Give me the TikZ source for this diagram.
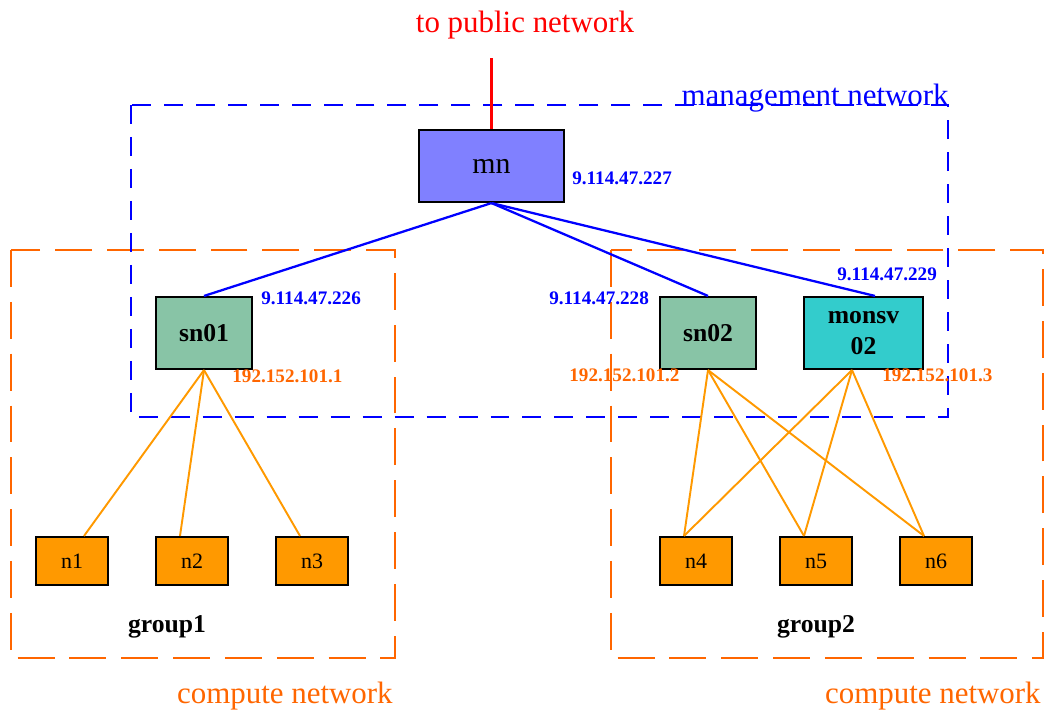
\documentclass[tikz,border=0pt]{standalone}
\usepackage{fontspec}
\setmainfont{Liberation Serif}
\usetikzlibrary{calc}
\definecolor{mnblue}{RGB}{128,128,255}
\definecolor{sngreen}{RGB}{136,196,166}
\definecolor{moncyan}{RGB}{51,204,204}
\definecolor{nodeorange}{RGB}{255,153,0}
\definecolor{netorange}{RGB}{255,102,0}
\definecolor{linkred}{RGB}{255,0,0}
\tikzset{
  host/.style={draw=black,line width=1.2pt,inner sep=0pt,align=center},
  mnbox/.style={host,fill=mnblue,minimum width=2.9cm,minimum height=1.44cm,font=\fontsize{17}{20}\selectfont},
  snbox/.style={host,fill=sngreen,minimum width=1.92cm,minimum height=1.44cm,font=\fontsize{14.6}{17.6}\selectfont\bfseries},
  monbox/.style={host,fill=moncyan,minimum width=2.38cm,minimum height=1.44cm,font=\fontsize{14.6}{17.6}\selectfont\bfseries},
  cnbox/.style={host,fill=nodeorange,minimum width=1.44cm,minimum height=0.96cm,font=\fontsize{12.5}{14}\selectfont},
  netlabel/.style={font=\fontsize{17.6}{20}\selectfont,inner sep=0pt},
  iplabel/.style={font=\fontsize{10.9}{13}\selectfont\bfseries,inner sep=0pt},
  mgmtnet/.style={blue,line width=1.4pt,dash pattern=on 10.8pt off 7.4pt},
  compnet/.style={netorange,line width=1.4pt,dash pattern=on 21pt off 8.5pt},
  mgmtlink/.style={blue,line width=1.3pt},
  complink/.style={nodeorange,line width=1.1pt},
}
\begin{document}
\begin{tikzpicture}[x=0.02cm,y=-0.02cm]
  \useasboundingbox (0,0) rectangle (1047,714);
  %networks
  \draw[compnet] (11,250) rectangle (395,658);
  \draw[compnet] (611,250) rectangle (1043,658);
  \draw[mgmtnet] (131,105) rectangle (948,417);
  \node[netlabel,red,anchor=base] (public) at (525,32) {to public network};
  \node[netlabel,blue,anchor=base east] (mgmt) at (949,105) {management network};
  \node[netlabel,netorange,anchor=base east] (comp1) at (393,703) {compute network};
  \node[netlabel,netorange,anchor=base east] (comp2) at (1041,703) {compute network};
  %hosts
  \node[mnbox] (mn) at (491.5,166) {mn};
  \node[snbox] (sn01) at (204,333) {sn01};
  \node[snbox] (sn02) at (708,333) {sn02};
  \node[monbox] (monsv) at (863.5,333) {monsv\\02};
  \node[cnbox] (n1) at (72,561) {n1};
  \node[cnbox] (n2) at (192,561) {n2};
  \node[cnbox] (n3) at (312,561) {n3};
  \node[cnbox] (n4) at (696,561) {n4};
  \node[cnbox] (n5) at (816,561) {n5};
  \node[cnbox] (n6) at (936,561) {n6};
  \node[font=\fontsize{14.6}{17}\selectfont\bfseries,anchor=base] (group1) at (167,632) {group1};
  \node[font=\fontsize{14.6}{17}\selectfont\bfseries,anchor=base] (group2) at (816,632) {group2};
  %addresses
  \node[iplabel,blue,anchor=base west] (ipmn) at (572,184) {9.114.47.227};
  \node[iplabel,blue,anchor=base west] (ipsn01) at (261,304) {9.114.47.226};
  \node[iplabel,blue,anchor=base west] (ipsn02) at (549,304) {9.114.47.228};
  \node[iplabel,blue,anchor=base west] (ipmon) at (837,280) {9.114.47.229};
  \node[iplabel,netorange,anchor=base west] (cpsn01) at (232,382) {192.152.101.1};
  \node[iplabel,netorange,anchor=base west] (cpsn02) at (569,381) {192.152.101.2};
  \node[iplabel,netorange,anchor=base west] (cpmon) at (882,381) {192.152.101.3};
  %links
  \coordinate (uplink) at (491.5,58);
  \draw[draw=linkred,line width=1.3pt] (uplink) -- (mn.north);
  \draw[mgmtlink] (mn.south) -- (sn01.north);
  \draw[mgmtlink] (mn.south) -- (sn02.north);
  \draw[mgmtlink] (mn.south) -- ($(monsv.north)+(11.5,0)$);
  \draw[complink] (sn01.south) -- ($(n1.north)+(12,0)$);
  \foreach \n in {n2,n3}
    \draw[complink] (sn01.south) -- ($(\n.north)+(-12,0)$);
  \foreach \n in {n4,n5,n6}{
    \draw[complink] (sn02.south) -- ($(\n.north)+(-12,0)$);
    \draw[complink] ($(monsv.south)+(-11.5,0)$) -- ($(\n.north)+(-12,0)$);
  }
\end{tikzpicture}
\end{document}
